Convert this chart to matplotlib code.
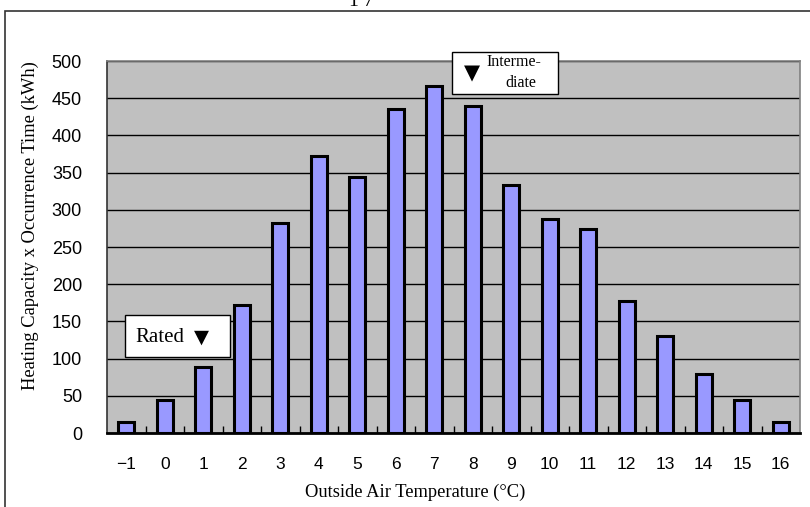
import matplotlib
matplotlib.use("Agg")
import matplotlib.pyplot as plt
from matplotlib.patches import Rectangle

temps = [-1, 0, 1, 2, 3, 4, 5, 6, 7, 8, 9, 10, 11, 12, 13, 14, 15, 16]
energy = [15, 44, 89, 172, 282, 372, 344, 436, 466, 439, 333, 287, 274, 178, 130, 79, 44, 15]
tick_labels = ["\u22121"] + [str(t) for t in temps[1:]]
y_ticks = list(range(0, 501, 50))

num_font = "Liberation Sans"
serif = "Liberation Serif"

W, H = 810, 507
fig = plt.figure(figsize=(W / 100, H / 100), dpi=100)

# outer page frame and the clipped page number above it
fig.patches.append(Rectangle((5 / W, -0.1), 1.2, (H - 11) / H + 0.1, transform=fig.transFigure,
                             fill=False, edgecolor="#333333", linewidth=1.2))
fig.text(361 / W, 1 - 1 / H, "1 7", family=serif, fontsize=14, ha="center", va="center")

ax = fig.add_axes([107 / W, 1 - 433 / H, (800 - 107) / W, (433 - 61) / H])
ax.set_facecolor("#C0C0C0")

x = list(range(len(temps)))
ax.bar(x, energy, width=0.42, color="#9999FF", edgecolor="black", linewidth=2.2, zorder=3)

ax.set_xlim(-0.5, len(temps) - 0.5)
ax.set_ylim(0, 500)
ax.set_yticks(y_ticks)
ax.set_yticklabels([str(v) for v in y_ticks], family=num_font, fontsize=13)
ax.yaxis.grid(True, color="black", linewidth=1.0, zorder=1)
ax.tick_params(axis="y", length=0, pad=18)

ax.set_xticks(x)
ax.set_xticklabels(tick_labels, family=num_font, fontsize=12.5)
ax.tick_params(axis="x", which="major", length=0, pad=17)
ax.set_xticks([i + 0.5 for i in x[:-1]], minor=True)
ax.tick_params(axis="x", which="minor", direction="in", length=5, width=1, color="black")

for s in ["top", "right"]:
    ax.spines[s].set_color("#808080")
    ax.spines[s].set_linewidth(1.2)
ax.spines["left"].set_color("#333333")
ax.spines["left"].set_linewidth(1.2)
ax.spines["bottom"].set_color("black")
ax.spines["bottom"].set_linewidth(2)

fig.text(415 / W, 1 - 492 / H, "Outside Air Temperature (\u00b0C)", family=serif, fontsize=13.3,
         ha="center", va="center")
fig.text(30 / W, 1 - 226 / H, "Heating Capacity x Occurrence Time (kWh)", family=serif,
         fontsize=13.3, rotation=90, ha="center", va="center")

# annotation boxes
fig.patches.append(Rectangle((125 / W, 1 - 357 / H), 105 / W, 42 / H, transform=fig.transFigure,
                             facecolor="white", edgecolor="black", linewidth=1, zorder=5))
fig.text(135 / W, 1 - 337 / H, "Rated", family=serif, fontsize=15, va="center", zorder=6)
fig.text(194 / W, 1 - 337 / H, "\u25bc", family="DejaVu Sans", fontsize=14, va="center", zorder=6)

fig.patches.append(Rectangle((452 / W, 1 - 94 / H), 106 / W, 42 / H, transform=fig.transFigure,
                             facecolor="white", edgecolor="black", linewidth=1, zorder=5))
fig.text(464 / W, 1 - 73 / H, "\u25bc", family="DejaVu Sans", fontsize=15, va="center", zorder=6)
fig.text(514 / W, 1 - 62 / H, "Interme-", family=serif, fontsize=11.5, ha="center",
         va="center", zorder=6)
fig.text(521 / W, 1 - 83 / H, "diate", family=serif, fontsize=11.5, ha="center",
         va="center", zorder=6)

fig.savefig("out.png", dpi=100)
